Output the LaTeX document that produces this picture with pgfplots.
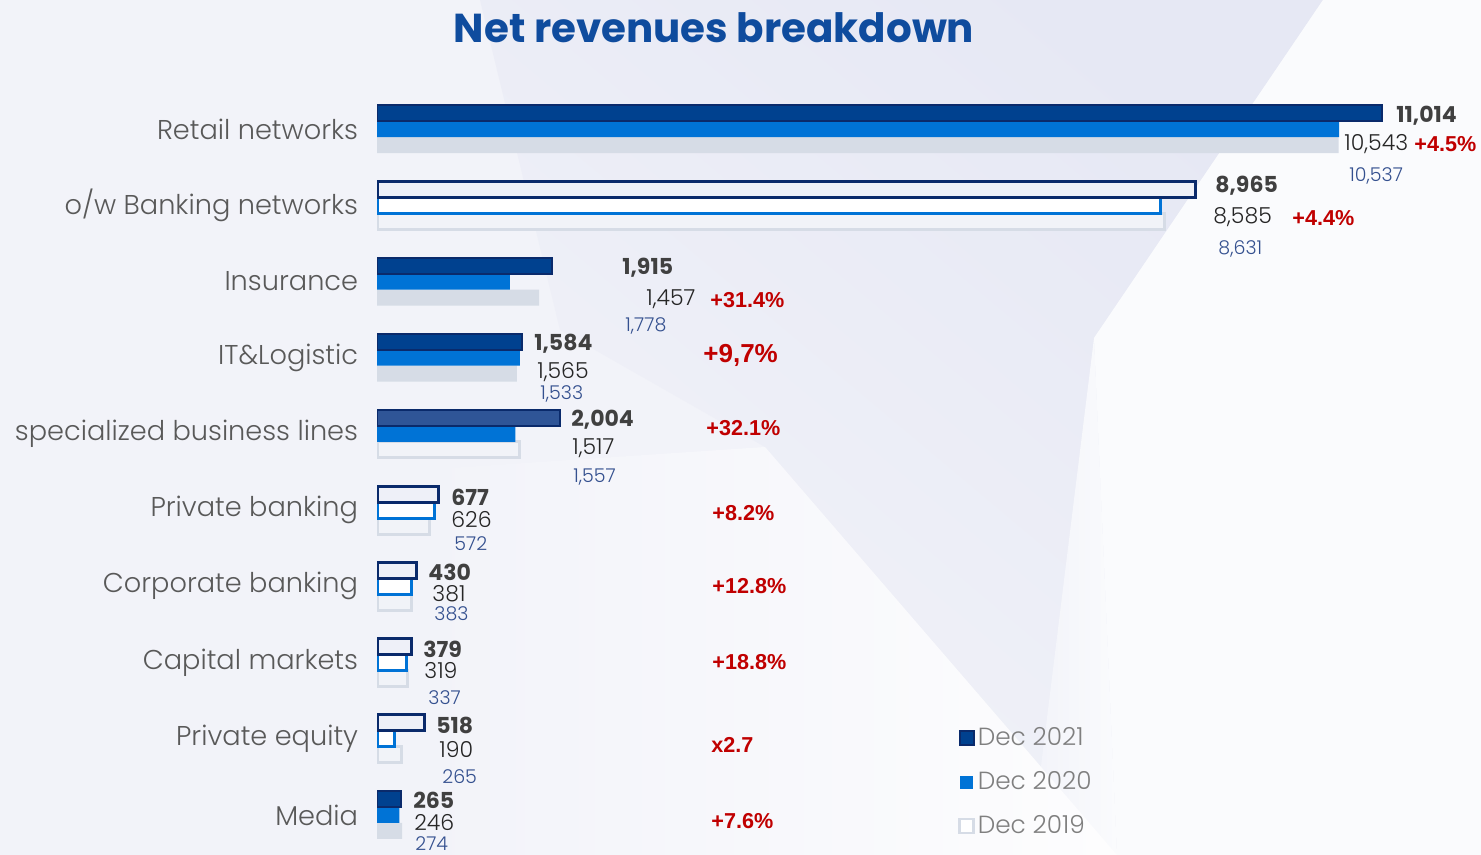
\documentclass[border=0pt]{standalone}
\usepackage{pgfplots}
\pgfplotsset{compat=1.18}
\usepackage{fontspec}
\newfontfamily\gothic{Poppins}[Numbers=Monospaced]
\newfontfamily\gothicl{Poppins}[UprightFont={* Light}, BoldFont={* SemiBold}, Numbers=Monospaced]
\newfontfamily\arial{Liberation Sans}
\definecolor{bg}{HTML}{F2F3F9}
\definecolor{bgw}{HTML}{FAFBFD}
\definecolor{bgww}{HTML}{FDFDFE}
\definecolor{bgd}{HTML}{E6E8F4}
\definecolor{c21}{HTML}{00418F}
\definecolor{c21b}{HTML}{0A2A6B}
\definecolor{c21s}{HTML}{2F5597}
\definecolor{c20}{HTML}{0073D6}
\definecolor{c19}{HTML}{D6DCE6}
\definecolor{o21}{HTML}{EEF0F8}
\definecolor{o19}{HTML}{F1F3F8}
\definecolor{lab}{HTML}{595959}
\definecolor{v21}{HTML}{404040}
\definecolor{v20}{HTML}{262626}
\definecolor{v19}{HTML}{34508F}
\definecolor{red}{HTML}{C00000}
\definecolor{ttl}{HTML}{0F4C9E}
\definecolor{legt}{HTML}{7F7F7F}
\newcommand\px[2]{({(#1)*0.5pt},{(855-(#2))*0.5pt})}
\newcommand\vA[3]{\node[anchor=west,inner sep=0pt,text=v21,font=\gothic\bfseries\fontsize{11}{13}\selectfont] at \px{#1}{#2} {#3};}
\newcommand\vB[3]{\node[anchor=west,inner sep=0pt,text=v20,font=\gothicl\fontsize{11}{13}\selectfont] at \px{#1}{#2} {#3};}
\newcommand\vC[3]{\node[anchor=west,inner sep=0pt,text=v19,font=\gothicl\fontsize{9.5}{11}\selectfont] at \px{#1}{#2} {#3};}
\newcommand\vR[3]{\node[anchor=west,inner sep=0pt,text=red,font=\arial\bfseries\fontsize{10.8}{13}\selectfont] at \px{#1}{#2} {#3};}
\begin{document}
\begin{tikzpicture}
\useasboundingbox (0,0) rectangle (740.5pt,427.5pt);
\fill[bg] (0,0) rectangle (740.5pt,427.5pt);
\shade[top color=bgd, bottom color=bg, shading angle=-40] \px{480}{0} -- \px{1323}{0} -- \px{1094}{338} -- \px{1117}{855} -- \px{765}{447} -- \px{560}{330} -- cycle;
\shade[left color=bg, right color=bgw] \px{1094}{338} -- \px{1117}{855} -- \px{1030}{855} -- cycle;
\fill[bgw] \px{1323}{0} -- \px{1481}{0} -- \px{1481}{855} -- \px{1117}{855} -- \px{1094}{338} -- cycle;
\shade[left color=bg, right color=bgww] \px{765}{447} -- \px{1117}{855} -- \px{420}{855} -- \px{420}{470} -- cycle;
\begin{axis}[
  at={(188.5pt,0.95pt)}, anchor=south west,
  scale only axis, width=547.5pt, height=381.05pt,
  xmin=0, xmax=12000, ymin=-0.5, ymax=9.5,
  xbar, bar width=8pt,
  axis line style={draw=none}, tick style={draw=none},
  xtick=\empty, ytick={0,...,9},
  yticklabels={Media,Private equity,Capital markets,Corporate banking,Private banking,specialized business lines,IT\&Logistic,Insurance,o/w Banking networks,Retail networks},
  yticklabel style={font=\gothicl\fontsize{13.6}{15}\selectfont, text=lab, inner sep=0pt, anchor=east, xshift=-5pt},
  legend style={at={(0.5306,0.1694)}, anchor=north west, draw=none, fill=none,
    font=\gothicl\fontsize{12.4}{14}\selectfont, text=legt, row sep=8.5pt, inner sep=0pt,
    nodes={inner sep=1.5pt}},
  legend cell align=left,
]
% Dec 2019
\addplot[forget plot, fill=c19, draw=none, bar shift=-8pt] coordinates {(10537,9) (1778,7) (1533,6) (274,0)};
\addplot[forget plot, fill=o19, draw=c19, line width=1.5pt, bar shift=-8pt] coordinates {(8631,8) (1557,5) (572,4) (383,3) (337,2) (265,1)};
% Dec 2020
\addplot[forget plot, fill=c20, draw=none, bar shift=0pt] coordinates {(10543,9) (1457,7) (1565,6) (1517,5) (246,0)};
\addplot[forget plot, fill=white, draw=c20, line width=1.5pt, bar shift=0pt] coordinates {(8585,8) (626,4) (381,3) (319,2) (190,1)};
% Dec 2021
\addplot[forget plot, fill=c21, draw=c21b, line width=1pt, bar shift=8pt] coordinates {(11014,9) (1915,7) (1584,6) (265,0)};
\addplot[forget plot, fill=c21s, draw=c21b, line width=1pt, bar shift=8pt] coordinates {(2004,5)};
\addplot[forget plot, fill=o21, draw=c21b, line width=1.5pt, bar shift=8pt] coordinates {(8965,8) (677,4) (430,3) (379,2) (518,1)};
\addlegendimage{legend image code/.code={\draw[fill=c21,draw=c21b,line width=1pt] (0pt,-3.5pt) rectangle (7pt,3.5pt);}}
\addlegendentry{Dec 2021}
\addlegendimage{legend image code/.code={\fill[c20] (0.5pt,-3pt) rectangle (6.5pt,3pt);}}
\addlegendentry{Dec 2020}
\addlegendimage{legend image code/.code={\draw[fill=white,draw=c19,line width=1.2pt] (0pt,-3.5pt) rectangle (7pt,3.5pt);}}
\addlegendentry{Dec 2019}
\end{axis}
\node[text=ttl, font=\gothic\bfseries\fontsize{20.2}{24}\selectfont] at \px{714}{28} {Net revenues breakdown};
% Retail networks
\vA{1396}{116}{11,014} \vB{1344}{144}{10,543} \vR{1414}{144}{+4.5\%} \vC{1349}{176}{10,537}
% Banking networks
\vA{1215}{186}{8,965} \vB{1213}{217}{8,585} \vR{1292}{218}{+4.4\%} \vC{1218}{249}{8,631}
% Insurance
\vA{622}{268}{1,915} \vB{646}{299}{1,457} \vR{710}{300}{+31.4\%} \vC{625}{326}{1,778}
% IT&Logistic
\vA{534}{344}{1,584} \vB{537}{372}{1,565} \vC{540}{394}{1,533}
\node[anchor=west,inner sep=0pt,text=red,font=\arial\bfseries\fontsize{13}{15}\selectfont] at \px{703}{355} {+9,7\%};
% specialized
\vA{571}{420}{2,004} \vB{572}{448}{1,517} \vC{573}{477}{1,557} \vR{706}{428}{+32.1\%}
% Private banking
\vA{451}{497}{677} \vB{451}{519}{626} \vC{454}{544}{572} \vR{712}{513}{+8.2\%}
% Corporate banking
\vA{428}{572}{430} \vB{432}{594}{381} \vC{434}{614}{383} \vR{712}{586}{+12.8\%}
% Capital markets
\vA{423}{649}{379} \vB{424}{671}{319} \vC{428}{698}{337} \vR{712}{662}{+18.8\%}
% Private equity
\vA{436}{725}{518} \vB{439}{750}{190} \vC{442}{777}{265} \vR{711}{745}{x2.7}
% Media
\vA{413}{800}{265} \vB{414}{822}{246} \vC{415}{844}{274} \vR{711}{821}{+7.6\%}
\end{tikzpicture}
\end{document}
